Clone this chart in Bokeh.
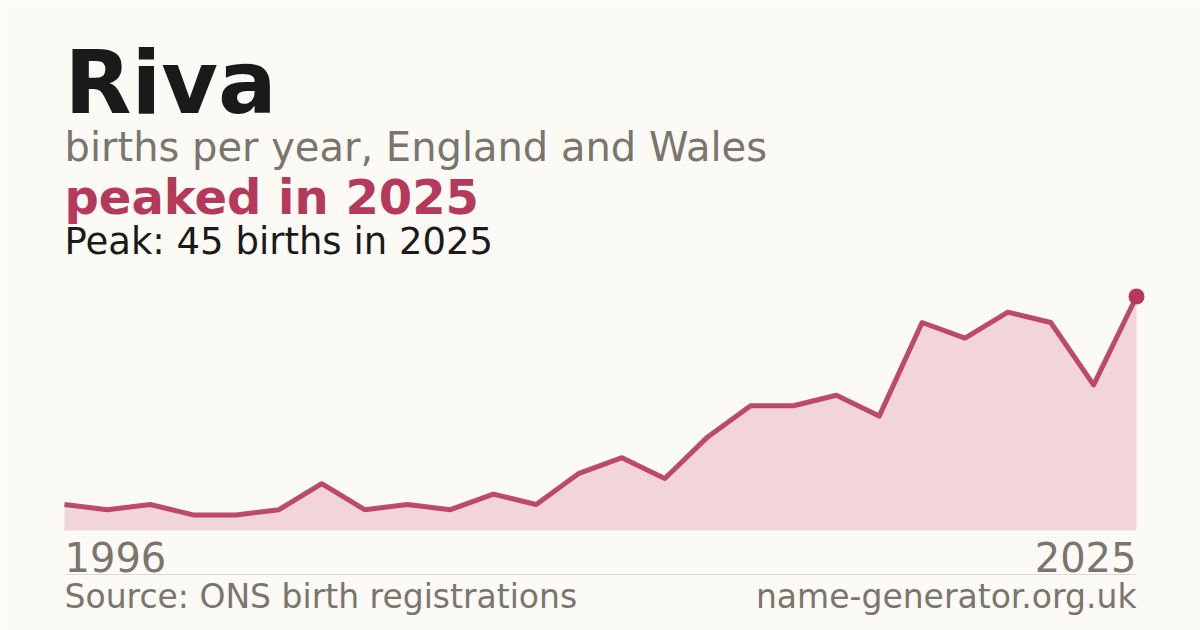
from bokeh.plotting import figure
from bokeh.models import Range1d
from bokeh.embed import file_html
from bokeh.resources import INLINE
from bokeh.core.properties import value

# ---- data ----
name = "Riva"
first_year = "1996"
last_year = "2025"
births = [5, 4, 5, 3, 3, 4, 9, 4, 5, 4, 7, 5, 11, 14, 10, 18, 24, 24, 26, 22, 40, 37, 42, 40, 28, 45]
peak_value = 45
peak_year = "2025"

W, H = 1200, 630
BG = "#fbfaf5"
CRIMSON = "#b5395a"
GRAY = "#7a756d"
FONT = value("DejaVu Sans")

p = figure(width=W, height=H, output_backend="svg", toolbar_location=None,
           x_range=Range1d(0, W), y_range=Range1d(H, 0),
           min_border=0, background_fill_color=BG, border_fill_color=BG,
           outline_line_color=None)
p.axis.visible = False
p.grid.visible = False

# chart area in canvas pixels
n = len(births)
left_px, right_px = 64, 1136
base_px, top_px = 530, 296
xs_per = (right_px - left_px) / (n - 1)
ys_per = (base_px - top_px) / peak_value
p.extra_x_ranges = {"idx": Range1d(-left_px / xs_per, (n - 1) + (W - right_px) / xs_per)}
p.extra_y_ranges = {"val": Range1d(-(H - base_px) / ys_per, peak_value + top_px / ys_per)}

idx = list(range(n))
p.varea(x=idx, y1=[0] * n, y2=births, fill_color="#f2d5da",
        x_range_name="idx", y_range_name="val")
p.line(x=idx, y=births, line_color=CRIMSON, line_width=5, line_join="round",
       line_alpha=0.9, x_range_name="idx", y_range_name="val")
p.scatter(x=[n - 1], y=[births[-1]], size=16, fill_color=CRIMSON, line_color=None,
          x_range_name="idx", y_range_name="val")

# divider
p.segment(x0=[64], y0=[574], x1=[1136], y1=[574], line_color="#dedad3", line_width=1)

def txt(x, baseline, s, size, color, bold=False, align="left"):
    y = baseline - 0.35 * size
    p.text(x=[x], y=[y], text=[s], text_font=FONT, text_font_size=f"{size}px",
           text_color=color, text_font_style="bold" if bold else "normal",
           text_align=align, text_baseline="alphabetic")

txt(64, 113, name, 87, "#1a1a1a", bold=True)
txt(64, 160, "births per year, England and Wales", 40, GRAY)
txt(64, 213, f"peaked in {peak_year}", 48, CRIMSON, bold=True)
txt(64, 254, f"Peak: {peak_value} births in {peak_year}", 37, "#1a1a1a")
txt(64, 570, first_year, 40, GRAY)
txt(1136, 570, last_year, 40, GRAY, align="right")
txt(64, 608, "Source: ONS birth registrations", 33, GRAY)
txt(1136, 608, "name-generator.org.uk", 33, GRAY, align="right")

open("out.html", "w").write(file_html(p, INLINE))
